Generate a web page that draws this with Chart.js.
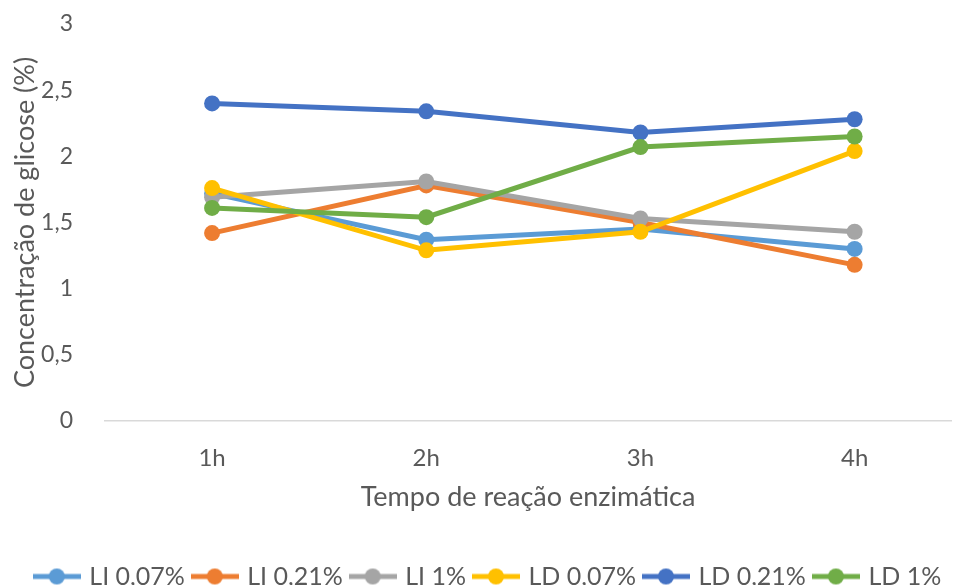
<!DOCTYPE html>
<html>
<head>
<meta charset="utf-8">
<script src="https://cdn.jsdelivr.net/npm/chart.js@4.4.1/dist/chart.umd.min.js"></script>
<style>
    html, body { margin: 0; padding: 0; background: #fff; }
    #wrap { width: 959px; height: 585px; }
</style>
</head>
<body>
<div id="wrap"><canvas id="GlucoseChart"></canvas></div>
<script>
// data
var categories = ['1h', '2h', '3h', '4h'];
var yTicks = [0, 0.5, 1, 1.5, 2, 2.5, 3];

var li007 = [1.72, 1.37, 1.45, 1.30];
var li021 = [1.42, 1.78, 1.50, 1.18];
var li1 = [1.69, 1.81, 1.53, 1.43];
var ld007 = [1.76, 1.29, 1.43, 2.04];
var ld021 = [2.40, 2.34, 2.18, 2.28];
var ld1 = [1.61, 1.54, 2.07, 2.15];

var seriesNames = ['LI 0,07%', 'LI 0,21%', 'LI 1%', 'LD 0,07%', 'LD 0,21%', 'LD 1%'];
var seriesValues = [li007, li021, li1, ld007, ld021, ld1];
var seriesColors = ['#5B9BD5', '#ED7D31', '#A5A5A5', '#FFC000', '#4472C4', '#70AD47'];

var fontFamily = 'Lato, "Open Sans", sans-serif';
var textColor = '#595959';

// legend marker: a short line with a dot in the middle
function legendMarker(color) {
    var c = document.createElement('canvas');
    c.width = 48;
    c.height = 18;
    var g = c.getContext('2d');
    g.strokeStyle = color;
    g.lineWidth = 5;
    g.beginPath();
    g.moveTo(0, 9);
    g.lineTo(48, 9);
    g.stroke();
    g.fillStyle = color;
    g.beginPath();
    g.arc(24, 9, 8, 0, Math.PI * 2);
    g.fill();
    return c;
}

drawGlucoseChart();
function drawGlucoseChart() {
    var ctx = document.getElementById('GlucoseChart');

    var datasets = seriesNames.map(function (name, i) {
        return {
            label: name,
            data: seriesValues[i].map(function (v, j) { return { x: j + 1, y: v }; }),
            borderColor: seriesColors[i],
            backgroundColor: seriesColors[i],
            borderWidth: 5,
            pointRadius: 8,
            pointHoverRadius: 8,
            pointBorderWidth: 0,
            pointStyle: 'circle',
            fill: false,
            tension: 0,
            // last series drawn on top, like the original
            order: seriesNames.length - i
        };
    });

    var config = {
        type: 'line',
        data: { datasets: datasets },
        options: {
            responsive: true,
            maintainAspectRatio: false,
            animation: false,
            layout: {
                padding: { top: 24, right: 1, left: 20, bottom: -14 }
            },
            scales: {
                x: {
                    type: 'linear',
                    min: 0.5,
                    max: 4.45,
                    afterBuildTicks: function (axis) {
                        axis.ticks = categories.map(function (c, i) { return { value: i + 1 }; });
                    },
                    afterFit: function (axis) {
                        axis.height = 133;
                    },
                    grid: { display: false },
                    border: { display: true, color: '#D9D9D9', width: 1.5 },
                    ticks: {
                        color: textColor,
                        font: { family: fontFamily, size: 24 },
                        padding: 15,
                        maxRotation: 0,
                        callback: function (v) { return categories[v - 1]; }
                    },
                    title: {
                        display: true,
                        text: 'Tempo de reação enzimática',
                        color: textColor,
                        font: { family: fontFamily, size: 27 },
                        padding: { top: 4, bottom: 41 }
                    }
                },
                y: {
                    min: 0,
                    max: 3,
                    afterBuildTicks: function (axis) {
                        axis.ticks = yTicks.map(function (v) { return { value: v }; });
                    },
                    afterFit: function (axis) {
                        axis.width = 85;
                        axis.paddingTop = 0;
                        axis.paddingBottom = 0;
                    },
                    grid: { display: false },
                    border: { display: false },
                    ticks: {
                        color: textColor,
                        font: { family: fontFamily, size: 23 },
                        padding: 24,
                        callback: function (v) { return String(v).replace('.', ','); }
                    },
                    title: {
                        display: true,
                        text: 'Concentração de glicose (%)',
                        color: textColor,
                        font: { family: fontFamily, size: 27 },
                        padding: { top: -11, bottom: 0 }
                    }
                }
            },
            plugins: {
                tooltip: { enabled: false },
                legend: {
                    position: 'bottom',
                    labels: {
                        color: textColor,
                        font: { family: fontFamily, size: 25 },
                        usePointStyle: true,
                        pointStyleWidth: 40,
                        padding: 10,
                        generateLabels: function (chart) {
                            return seriesNames.map(function (name, i) {
                                return {
                                    text: name,
                                    fontColor: textColor,
                                    pointStyle: legendMarker(seriesColors[i]),
                                    datasetIndex: i,
                                    hidden: false,
                                    lineWidth: 0
                                };
                            });
                        }
                    }
                }
            }
        }
    };

    var myChart = new Chart(ctx, config);
}
</script>
</body>
</html>
